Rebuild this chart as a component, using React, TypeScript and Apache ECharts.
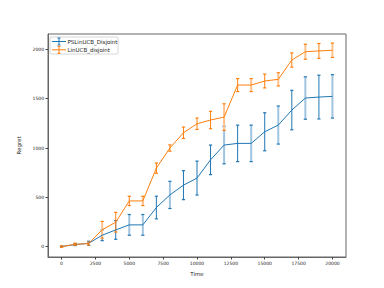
import React, { useEffect, useRef } from "react";
import * as echarts from "echarts";

const times = [0, 1000, 2000, 3000, 4000, 5000, 6000, 7000, 8000, 9000, 10000, 11000, 12000, 13000, 14000, 15000, 16000, 17000, 18000, 19000, 20000];
const psMean = [0, 20, 33, 115, 169, 220, 220, 396, 524, 623, 695, 880, 1030, 1047, 1047, 1165, 1233, 1385, 1507, 1517, 1524];
const psErr = [5, 10, 21, 55, 95, 105, 105, 115, 138, 147, 172, 150, 190, 185, 185, 193, 193, 200, 215, 222, 220];
const linMean = [0, 23, 30, 170, 247, 463, 463, 796, 1000, 1155, 1246, 1284, 1314, 1639, 1639, 1680, 1697, 1893, 1977, 1985, 1992];
const linErr = [8, 12, 15, 85, 100, 47, 47, 52, 32, 58, 58, 88, 135, 66, 66, 70, 67, 72, 76, 76, 73];
const xTicks = [0, 2500, 5000, 7500, 10000, 12500, 15000, 17500, 20000];
const yTicks = [0, 500, 1000, 1500, 2000];
const seriesNames = ["PSLinUCB_Disjoint", "LinUCB_disjoint"];

const BLUE = "#1f77b4";
const ORANGE = "#ff7f0e";
const BLUE_L = "#9fc4e0";
const ORANGE_L = "#ffc08a";
const psLight = [5, 6, 8, 12, 14, 16, 18, 20];
const linLight = [3, 6, 12, 14, 16, 18, 20];

function errSeries(mean: number[], err: number[], color: string, light: string, lightIdx: number[]) {
  const data = times.map((t, i) => [t, mean[i] - err[i], mean[i] + err[i], i]);
  return {
    type: "custom",
    silent: true,
    z: 3,
    data,
    encode: { x: 0, y: [1, 2] },
    renderItem: (params: any, api: any) => {
      const t = api.value(0);
      const lo = api.coord([t, api.value(1)]);
      const hi = api.coord([t, api.value(2)]);
      const isLight = lightIdx.indexOf(api.value(3)) >= 0;
      const c = isLight ? light : color;
      const w = isLight ? 2 : 1;
      const cap = 1.6;
      return {
        type: "group",
        children: [
          { type: "line", shape: { x1: lo[0], y1: lo[1], x2: hi[0], y2: hi[1] }, style: { stroke: c, lineWidth: w } },
          { type: "line", shape: { x1: lo[0] - cap, y1: lo[1], x2: lo[0] + cap, y2: lo[1] }, style: { stroke: color, lineWidth: 1.2 } },
          { type: "line", shape: { x1: hi[0] - cap, y1: hi[1], x2: hi[0] + cap, y2: hi[1] }, style: { stroke: color, lineWidth: 1.2 } },
        ],
      };
    },
  };
}

function legendHandle(x: number, y: number, color: string) {
  return [
    { type: "line", shape: { x1: x, y1: y, x2: x + 14, y2: y }, style: { stroke: color, lineWidth: 1 } },
    { type: "line", shape: { x1: x + 7, y1: y - 3.5, x2: x + 7, y2: y + 3.5 }, style: { stroke: color, lineWidth: 1 } },
    { type: "line", shape: { x1: x + 5.5, y1: y - 3.5, x2: x + 8.5, y2: y - 3.5 }, style: { stroke: color, lineWidth: 1 } },
    { type: "line", shape: { x1: x + 5.5, y1: y + 3.5, x2: x + 8.5, y2: y + 3.5 }, style: { stroke: color, lineWidth: 1 } },
  ];
}

export default function App() {
  const ref = useRef<HTMLDivElement>(null);
  useEffect(() => {
    if (!ref.current) return;
    const chart = echarts.init(ref.current, null, { renderer: "svg" });
    const font = "DejaVu Sans";
    chart.setOption({
      animation: false,
      backgroundColor: "#fff",
      textStyle: { fontFamily: font },
      grid: { left: 48, right: 38, top: 34, bottom: 31, show: true, borderColor: "#666", borderWidth: 1, containLabel: false },
      xAxis: {
        type: "value",
        min: -1000,
        max: 21000,
        name: "Time",
        nameLocation: "middle",
        nameGap: 9,
        nameTextStyle: { fontSize: 5.5, color: "#222", fontFamily: font },
        axisLine: { show: true, onZero: false, lineStyle: { color: "#666" } },
        axisTick: { show: true, length: 2.5, customValues: xTicks, lineStyle: { color: "#444" } },
        axisLabel: { customValues: xTicks, fontSize: 4.5, color: "#222", margin: 4, fontFamily: font, formatter: (v: number) => String(v) },
        splitLine: { show: false },
      },
      yAxis: {
        type: "value",
        min: -106,
        max: 2157,
        name: "Regret",
        nameLocation: "middle",
        nameGap: 16,
        nameRotate: 90,
        nameTextStyle: { fontSize: 5.5, color: "#222", fontFamily: font },
        axisLine: { show: true, onZero: false, lineStyle: { color: "#666" } },
        axisTick: { show: true, length: 2.5, customValues: yTicks, lineStyle: { color: "#444" } },
        axisLabel: { customValues: yTicks, fontSize: 4.5, color: "#222", margin: 4, fontFamily: font, formatter: (v: number) => String(v) },
        splitLine: { show: false },
      },
      series: [
        {
          name: seriesNames[0],
          type: "line",
          data: times.map((t, i) => [t, psMean[i]]),
          showSymbol: false,
          lineStyle: { color: BLUE, width: 1 },
          z: 4,
        },
        {
          name: seriesNames[1],
          type: "line",
          data: times.map((t, i) => [t, linMean[i]]),
          showSymbol: false,
          lineStyle: { color: ORANGE, width: 1 },
          z: 4,
        },
        errSeries(psMean, psErr, BLUE, BLUE_L, psLight),
        errSeries(linMean, linErr, ORANGE, ORANGE_L, linLight),
      ],
      graphic: [
        {
          type: "rect",
          shape: { x: 50, y: 37, width: 68, height: 17, r: 1 },
          style: { fill: "rgba(255,255,255,0.8)", stroke: "#ccc", lineWidth: 0.8 },
          z: 10,
        },
        ...legendHandle(52, 41.5, BLUE).map((e) => ({ ...e, z: 11 })),
        ...legendHandle(52, 49.8, ORANGE).map((e) => ({ ...e, z: 11 })),
        {
          type: "text",
          x: 67.5,
          y: 41.5,
          z: 11,
          style: { text: seriesNames[0], fontSize: 5.5, fontFamily: font, fill: "#222", verticalAlign: "middle" },
        },
        {
          type: "text",
          x: 67.5,
          y: 49.8,
          z: 11,
          style: { text: seriesNames[1], fontSize: 5.5, fontFamily: font, fill: "#222", verticalAlign: "middle" },
        },
      ],
    });
    return () => chart.dispose();
  }, []);
  return <div ref={ref} style={{ width: 384, height: 288, position: "absolute", left: 0, top: 0 }} />;
}
